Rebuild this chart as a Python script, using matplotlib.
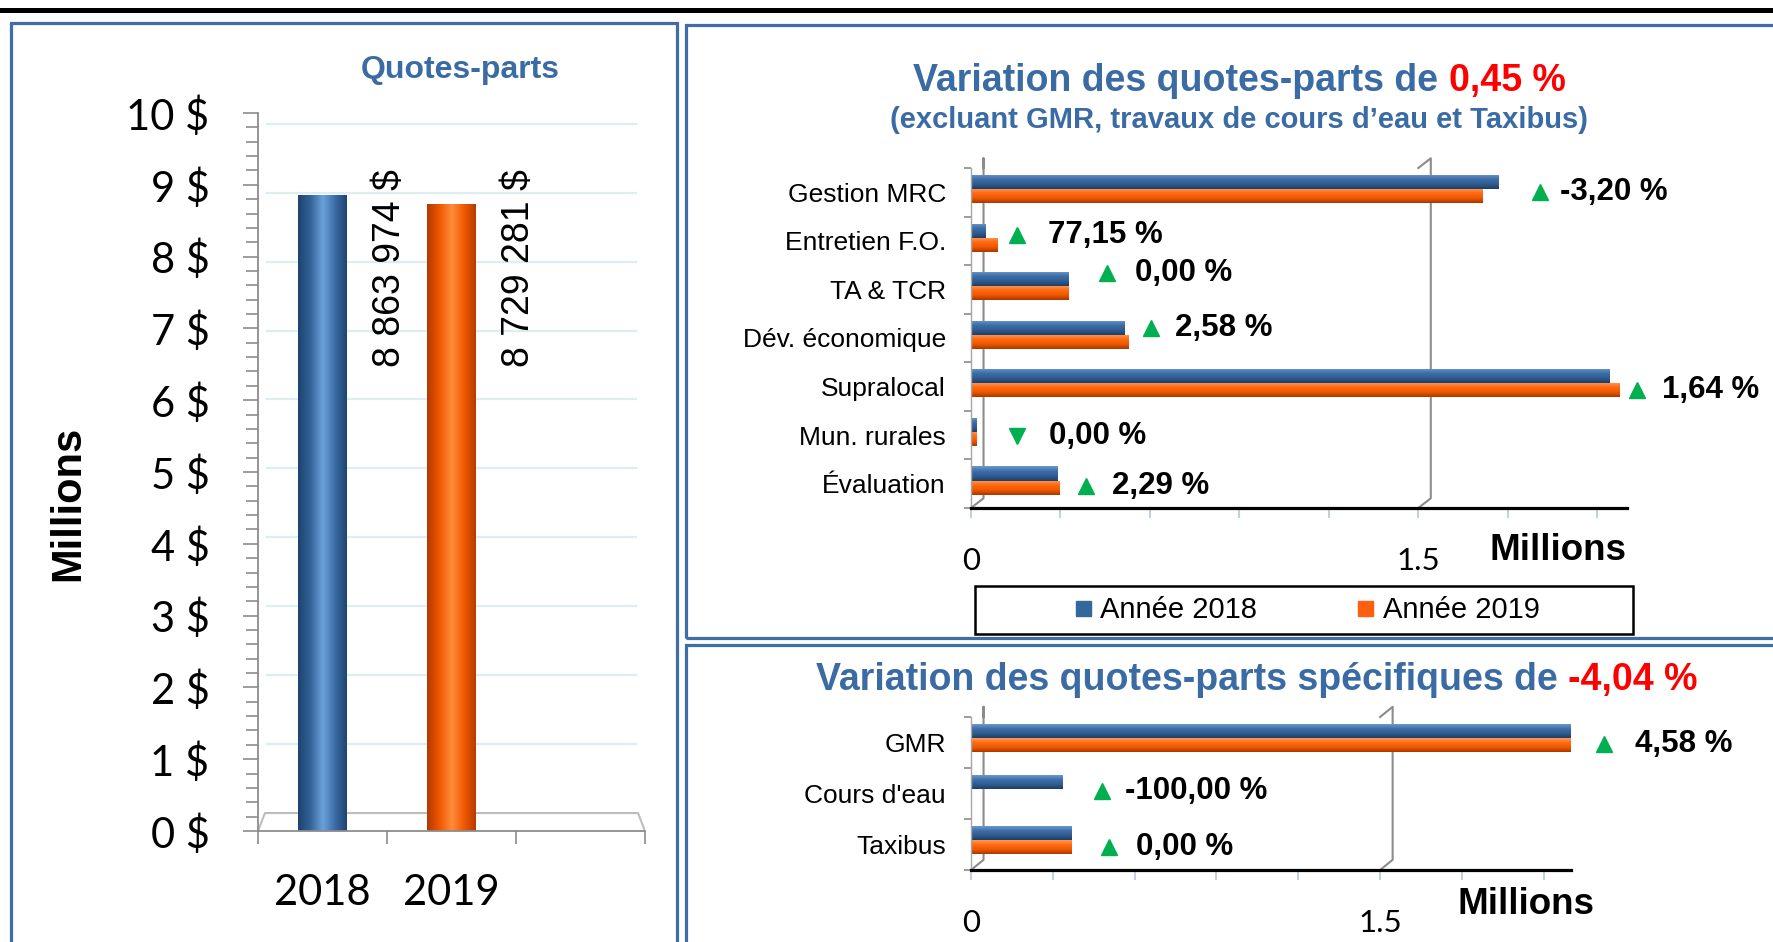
import numpy as np
import matplotlib
matplotlib.use('Agg')
import matplotlib.pyplot as plt
from matplotlib.colors import LinearSegmentedColormap
from matplotlib.lines import Line2D
from matplotlib.patches import Rectangle
from matplotlib.ticker import MultipleLocator, FixedLocator, FuncFormatter, NullFormatter

plt.rcParams['font.family'] = ['Liberation Sans', 'DejaVu Sans']

W, H = 1773, 942

# ---- données (quotes-parts, montants en $ / en millions)
annees = ['2018', '2019', '']
quotes_parts = [8863974, 8729281]
quotes_parts_txt = ['8 863 974 $', '8 729 281 $']

postes = ['Gestion MRC', 'Entretien F.O.', 'TA & TCR', 'Dév. économique',
          'Supralocal', 'Mun. rurales', 'Évaluation']
postes_2018 = [1.772, 0.050, 0.330, 0.518, 2.143, 0.020, 0.293]
postes_2019 = [1.716, 0.089, 0.330, 0.531, 2.178, 0.020, 0.300]
postes_var = ['-3,20 %', '77,15 %', '0,00 %', '2,58 %', '1,64 %', '0,00 %', '2,29 %']
postes_fleche = ['^', '^', '^', '^', '^', 'v', '^']

specif = ['GMR', "Cours d'eau", 'Taxibus']
specif_2018 = [2.250, 0.337, 0.371]
specif_2019 = [2.353, 0.0, 0.371]
specif_var = ['4,58 %', '-100,00 %', '0,00 %']
specif_fleche = ['^', '^', '^']

# placement des étiquettes de variation : (x flèche, x texte, y)
notes_postes = [(1.907, 1.974, 0.0), (0.153, 0.259, 0.88), (0.457, 0.549, 1.67),
                (0.605, 0.685, 2.79), (2.233, 2.317, 4.07), (0.153, 0.263, 5.02),
                (0.385, 0.473, 6.05)]
notes_specif = [(2.32, 2.436, 0.03), (0.48, 0.563, 0.955), (0.505, 0.604, 2.05)]

BLEU_T = '#3B6BA5'
ROUGE = '#FF0000'
CADRE = '#3F6EA7'
VERT = '#00B050'
C18 = '#34679C'
C19 = '#FF5F0F'
grad_h18 = ['#6C98CC', '#3E6EA9', '#2F5C90', '#1D3E66']
grad_h19 = ['#FF9A5C', '#FF6A14', '#F05800', '#A83800']
grad_v18 = ['#1E426E', '#336399', '#6AA2DA', '#3A6BA4', '#1E426E']
grad_v19 = ['#B43A00', '#F05800', '#FF8C3C', '#F05800', '#B43A00']


def fx(x): return x / W
def fy(y): return 1 - y / H
def fw(w): return w / W
def fh(h): return h / H


def shade(ax, rect, colors, across):
    '''remplit une barre avec un dégradé (effet cylindre)'''
    x0, y0, w, h = rect.get_x(), rect.get_y(), rect.get_width(), rect.get_height()
    if w == 0 or h == 0:
        return
    cm = LinearSegmentedColormap.from_list('g', colors)
    g = np.linspace(0, 1, 64)
    img = g[np.newaxis, :] if across == 'x' else g[:, np.newaxis]
    im = ax.imshow(img, cmap=cm, extent=(x0, x0 + w, y0 + h, y0), aspect='auto',
                   origin='upper', zorder=2, interpolation='bilinear')
    im.set_clip_path(rect.get_path(), rect.get_transform())


fig = plt.figure(figsize=(W / 100, H / 100), dpi=100)

# trait noir du haut + cadres
fig.add_artist(Line2D([0, 1], [fy(9.5), fy(9.5)], color='black', lw=3.6,
                      transform=fig.transFigure))
for x0, y0, x1, y1 in [(11, 23, 677, 990), (686, 25, 1800, 638), (686, 645, 1800, 990)]:
    fig.add_artist(Rectangle((fx(x0), fy(y1)), fw(x1 - x0), fh(y1 - y0), fill=False,
                             ec=CADRE, lw=2.3, transform=fig.transFigure))

# ================= graphique de gauche =================
axL = fig.add_axes([fx(258), fy(831), fw(387), fh(718)])
vals = np.array(quotes_parts) / 1e6
xs = np.arange(len(vals))
barsL = axL.bar(xs, vals, width=0.38, facecolor='none', edgecolor='none', zorder=3)
for b, g in zip(barsL, [grad_v18, grad_v19]):
    shade(axL, b, g, 'x')
for x, v, t in zip(xs, vals, quotes_parts_txt):
    axL.text(x + 0.52, 9.22, t, rotation=90, ha='center', va='top', fontsize=27)

# mur du fond (perspective) : grille et plancher
gris = '#8C8C8C'
for v in range(1, 11):
    axL.plot([-0.43, 2.43], [0.25 + 0.96 * v] * 2, color='#DDEDF4', lw=1.6, zorder=1)
axL.plot([-0.5, -0.446, 2.446, 2.5], [0, 0.25, 0.25, 0], color='#BDBDBD', lw=1.5, zorder=1)

axL.set_xlim(-0.5, 2.5)
axL.set_ylim(0, 10)
axL.yaxis.set_major_locator(MultipleLocator(1))
axL.yaxis.set_minor_locator(MultipleLocator(0.2))
axL.yaxis.set_major_formatter(FuncFormatter(lambda v, p: f'{int(round(v))} $'))
axL.xaxis.set_major_locator(FixedLocator([-0.5, 0.5, 1.5, 2.5]))
axL.xaxis.set_major_formatter(NullFormatter())
axL.xaxis.set_minor_locator(FixedLocator(xs.tolist() + [2]))
axL.set_xticklabels(annees, minor=True)
axL.tick_params(axis='y', which='major', length=11, width=1.2, color=gris, pad=24,
                labelsize=30, labelfontfamily='Lato')
axL.tick_params(axis='y', which='minor', length=8.5, width=1.2, color=gris)
axL.tick_params(axis='x', which='major', length=9.5, width=1.2, color=gris)
axL.tick_params(axis='x', which='minor', length=0, pad=31, labelsize=30,
                labelfontfamily='Lato')
for s in ['top', 'right']:
    axL.spines[s].set_visible(False)
for s in ['left', 'bottom']:
    axL.spines[s].set_color(gris)
    axL.spines[s].set_linewidth(1.3)
axL.set_facecolor('none')

fig.text(fx(460), fy(70), 'Quotes-parts', ha='center', va='center', fontsize=23,
         fontweight='bold', color=BLEU_T)
fig.text(fx(68), fy(503), 'Millions', rotation=90, ha='center', va='center',
         fontsize=30, fontweight='bold')


# ================= graphiques de droite =================
def horiz(ax, cats, v18, v19, var, fleche, notes, off18, off19, hb, wall, xmax):
    n = len(cats)
    ys = np.arange(n)
    b18 = ax.barh(ys + off18, v18, height=hb, facecolor='none', edgecolor='none', zorder=3)
    b19 = ax.barh(ys + off19, v19, height=hb, facecolor='none', edgecolor='none', zorder=3)
    for b in b18:
        shade(ax, b, grad_h18, 'y')
    for b in b19:
        shade(ax, b, grad_h19, 'y')
    for (xa, xt, yy), t, m in zip(notes, var, fleche):
        ax.plot(xa, yy, marker=m, color=VERT, ms=12, ls='none', clip_on=False, zorder=4)
        ax.text(xt, yy, t, ha='left', va='center', fontsize=22.5, fontweight='bold',
                clip_on=False)
    dx, dy = wall
    bot = n - 0.5
    for x0 in [0, 1.5]:
        ax.plot([x0 + dx * (x0 == 0), x0 + dx, x0 + dx, x0],
                [-0.5, -0.5 - dy, bot - dy, bot], color='#8C8C8C', lw=1.5,
                clip_on=False, zorder=1)
    ax.set_xlim(0, xmax)
    ax.set_ylim(bot, -0.5)
    ax.yaxis.set_major_locator(FixedLocator(np.arange(-0.5, n, 1.0)))
    ax.yaxis.set_major_formatter(NullFormatter())
    ax.yaxis.set_minor_locator(FixedLocator(ys))
    ax.set_yticklabels(cats, minor=True)
    ax.tick_params(axis='y', which='major', length=5, width=1.2, color='#8C8C8C')
    ax.tick_params(axis='y', which='minor', length=0, pad=18, labelsize=19)
    ax.xaxis.set_major_locator(MultipleLocator(1.5))
    ax.xaxis.set_minor_locator(MultipleLocator(0.3))
    ax.xaxis.set_major_formatter(FuncFormatter(lambda v, p: f'{v:g}'))
    ax.tick_params(axis='x', which='both', length=7, width=1.2, color='#B4C7E7',
                   direction='out')
    ax.tick_params(axis='x', which='major', pad=21, labelsize=22.5, labelfontfamily='Lato')
    for s in ['top', 'right']:
        ax.spines[s].set_visible(False)
    ax.spines['left'].set_color('#A6A6A6')
    ax.spines['left'].set_linewidth(1.0)
    ax.spines['bottom'].set_color('black')
    ax.spines['bottom'].set_linewidth(2.3)
    ax.set_facecolor('none')


axT = fig.add_axes([fx(971), fy(508), fw(656), fh(340)])
horiz(axT, postes, postes_2018, postes_2019, postes_var, postes_fleche, notes_postes,
      -0.21, 0.08, 0.29, (0.042, 0.2), 2.2)

axB = fig.add_axes([fx(971), fy(870), fw(600), fh(153)])
horiz(axB, specif, specif_2018, specif_2019, specif_var, specif_fleche, notes_specif,
      -0.22, 0.05, 0.27, (0.046, 0.2), 2.2)

fig.text(fx(1558), fy(551), 'Millions', ha='center', va='center', fontsize=26.5,
         fontweight='bold')
fig.text(fx(1526), fy(904), 'Millions', ha='center', va='center', fontsize=26.5,
         fontweight='bold')

# titres bicolores
renderer = fig.canvas.get_renderer()


def titre(x, y, bleu, rouge, size):
    t1 = fig.text(fx(x), fy(y), bleu, color=BLEU_T, fontsize=size, fontweight='bold',
                  va='baseline', ha='left')
    bb = t1.get_window_extent(renderer)
    fig.text((bb.x1 + size * 0.39) / W, fy(y), rouge, color=ROUGE, fontsize=size,
             fontweight='bold', va='baseline', ha='left')


titre(913, 91, 'Variation des quotes-parts de', '0,45 %', 27)
titre(816, 690, 'Variation des quotes-parts spécifiques de', '-4,04 %', 27)
fig.text(fx(1239), fy(120), "(excluant GMR, travaux de cours d\u2019eau et Taxibus)",
         ha='center', va='center', fontsize=21, fontweight='bold', color=BLEU_T)

# légende encadrée
fig.add_artist(Rectangle((fx(975), fy(634)), fw(658), fh(48), fill=False, ec='black',
                         lw=1.8, transform=fig.transFigure))
hdl = [Line2D([], [], marker='s', ls='none', color=C18, ms=10.8),
       Line2D([], [], marker='s', ls='none', color=C19, ms=10.8)]
fig.legend(hdl, ['Année 2018', 'Année 2019'], loc='center',
           bbox_to_anchor=(fx(1307), fy(610)), frameon=False, ncol=2, fontsize=21,
           handlelength=0.6, handletextpad=0.3, columnspacing=3.4, borderpad=0)

fig.savefig('out.png', dpi=100)
